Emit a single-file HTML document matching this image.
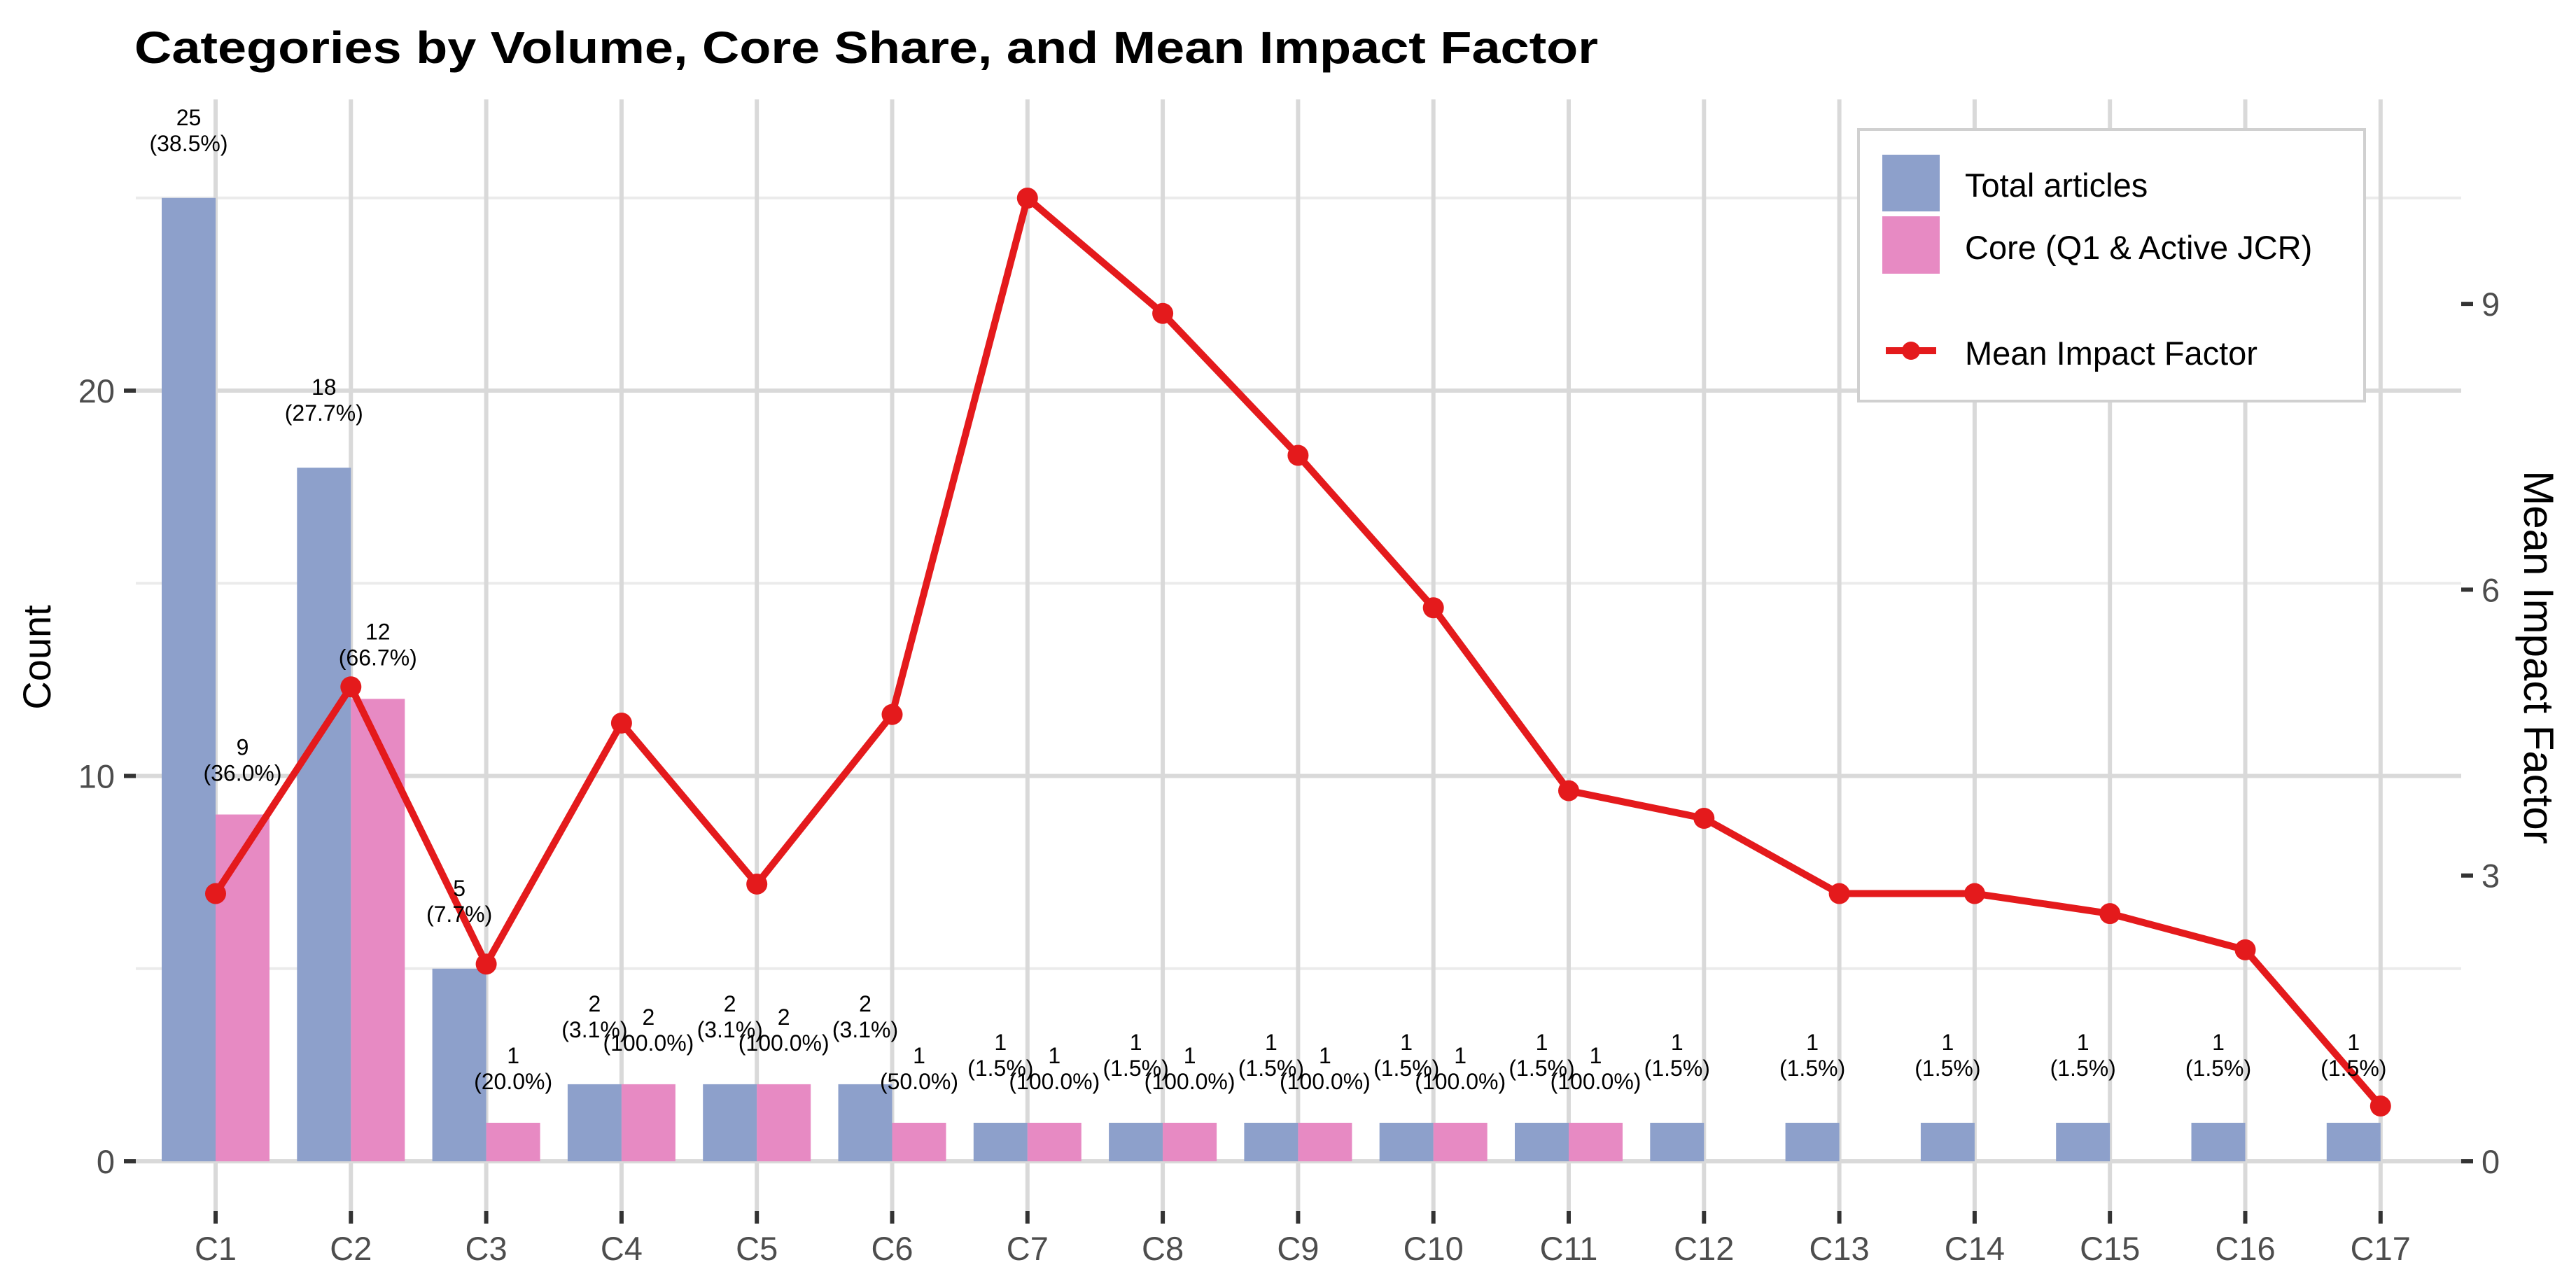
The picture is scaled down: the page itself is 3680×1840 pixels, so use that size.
<!DOCTYPE html>
<html><head><meta charset="utf-8"><style>
html,body{margin:0;padding:0;background:#fff;}
svg{display:block;font-family:"Liberation Sans",Arial,sans-serif;}
</style></head><body>
<svg id="chart" width="3680" height="1840" viewBox="0 0 3680 1840" xmlns="http://www.w3.org/2000/svg">
<rect width="3680" height="1840" fill="#fff"/>
<text x="192" y="90" font-size="64" font-weight="bold" fill="#000" textLength="2091" lengthAdjust="spacingAndGlyphs">Categories by Volume, Core Share, and Mean Impact Factor</text>
<g id="grid"></g><g id="bars"></g><g id="line"></g><g id="labels"></g><g id="axes"></g>
<text transform="translate(72,939) rotate(-90)" text-anchor="middle" font-size="56" fill="#000">Count</text>
<text transform="translate(3606,939) rotate(90)" text-anchor="middle" font-size="60" fill="#000">Mean Impact Factor</text>
<g>
<rect x="2655" y="185" width="723" height="388" fill="#fff" stroke="#d0d0d0" stroke-width="4"/>
<rect x="2689" y="221" width="82" height="81" fill="#8DA0CB"/>
<text x="2807" y="281" font-size="47">Total articles</text>
<rect x="2689" y="309" width="82" height="82" fill="#E78AC3"/>
<text x="2807" y="370" font-size="47">Core (Q1 &amp; Active JCR)</text>
<line x1="2694" y1="501" x2="2766" y2="501" stroke="#E41A1C" stroke-width="10"/>
<circle cx="2730" cy="501" r="13" fill="#E41A1C"/>
<text x="2807" y="521" font-size="47">Mean Impact Factor</text>
</g>
</svg>
<script>
const categories = ["C1","C2","C3","C4","C5","C6","C7","C8","C9","C10","C11","C12","C13","C14","C15","C16","C17"];
const totalArticles = [25,18,5,2,2,2,1,1,1,1,1,1,1,1,1,1,1];
const coreArticles = [9,12,1,2,2,1,1,1,1,1,1,0,0,0,0,0,0];
const meanIF = [2.81,4.98,2.07,4.6,2.91,4.69,10.11,8.9,7.41,5.81,3.89,3.6,2.81,2.81,2.6,2.22,0.58];
const countTicks = [0,10,20];
const countMinor = [5,15,25];
const ifTicks = [0,3,6,9];

const NS="http://www.w3.org/2000/svg";
const PL=194, PR=3516, PT=142, PB=1730;
const x0=308, step=193.3, bw=77;
const xPos = i => x0 + i*step;
const yCount = v => 1659 - v*55.05;
const yIF = v => 1659 - v*136.1;
function mk(tag, parent, attrs){const e=document.createElementNS(NS,tag);for(const k in attrs)e.setAttribute(k,attrs[k]);document.getElementById(parent).appendChild(e);return e;}

countMinor.forEach(v=>{const l=mk('line','grid',{x1:PL,x2:PR,y1:yCount(v),y2:yCount(v),stroke:'#ebebeb','stroke-width':4});

});
countTicks.forEach(v=>{const l=mk('line','grid',{x1:PL,x2:PR,y1:yCount(v),y2:yCount(v),stroke:'#d9d9d9','stroke-width':6});

});
categories.forEach((c,i)=>{const l=mk('line','grid',{x1:xPos(i),x2:xPos(i),y1:PT,y2:PB,stroke:'#d9d9d9','stroke-width':6});

});

categories.forEach((c,i)=>{
  const t=totalArticles[i], k=coreArticles[i];
  const b=mk('rect','bars',{x:xPos(i)-bw,y:yCount(t),width:bw,height:yCount(0)-yCount(t),fill:'#8DA0CB'});
  
  
  const pt=(t/65*100).toFixed(1);
  const lt=mk('text','labels',{x:xPos(i)-bw/2,y:yCount(t)-67,'text-anchor':'middle','font-size':32,fill:'#000'});
  
  
  lt.innerHTML='<tspan x="'+(xPos(i)-bw/2)+'" dy="-37">'+t+'</tspan><tspan x="'+(xPos(i)-bw/2)+'" dy="37">('+pt+'%)</tspan>';
  if(k>0){
    const p=mk('rect','bars',{x:xPos(i),y:yCount(k),width:bw,height:yCount(0)-yCount(k),fill:'#E78AC3'});
    
    
    const pc=(k/t*100).toFixed(1);
    const lc=mk('text','labels',{x:xPos(i)+bw/2,y:yCount(k)-48,'text-anchor':'middle','font-size':32,fill:'#000'});
    
    
    lc.innerHTML='<tspan x="'+(xPos(i)+bw/2)+'" dy="-37">'+k+'</tspan><tspan x="'+(xPos(i)+bw/2)+'" dy="37">('+pc+'%)</tspan>';
  }
});

const pts=meanIF.map((v,i)=>xPos(i)+','+yIF(v)).join(' ');
const pl=mk('polyline','line',{points:pts,fill:'none',stroke:'#E41A1C','stroke-width':10,'stroke-linejoin':'round'});


meanIF.forEach((v,i)=>{const c=mk('circle','line',{cx:xPos(i),cy:yIF(v),r:15,fill:'#E41A1C'});

});

countTicks.forEach(v=>{
  const tk=mk('line','axes',{x1:177,x2:194,y1:yCount(v),y2:yCount(v),stroke:'#333','stroke-width':6});
  
  
  const t=mk('text','axes',{x:164,y:yCount(v)+17,'text-anchor':'end','font-size':47,fill:'#4d4d4d'});
  
  
  t.textContent=v;
});
ifTicks.forEach(v=>{
  const tk=mk('line','axes',{x1:3516,x2:3533,y1:yIF(v),y2:yIF(v),stroke:'#333','stroke-width':6});
  
  
  const t=mk('text','axes',{x:3545,y:yIF(v)+17,'font-size':47,fill:'#4d4d4d'});
  
  
  t.textContent=v;
});
categories.forEach((c,i)=>{
  const tk=mk('line','axes',{x1:xPos(i),x2:xPos(i),y1:1730,y2:1748,stroke:'#333','stroke-width':6});
  
  
  const t=mk('text','axes',{x:xPos(i),y:1800,'text-anchor':'middle','font-size':47,fill:'#4d4d4d'});
  
  
  t.textContent=c;
});
</script>
</body></html>
